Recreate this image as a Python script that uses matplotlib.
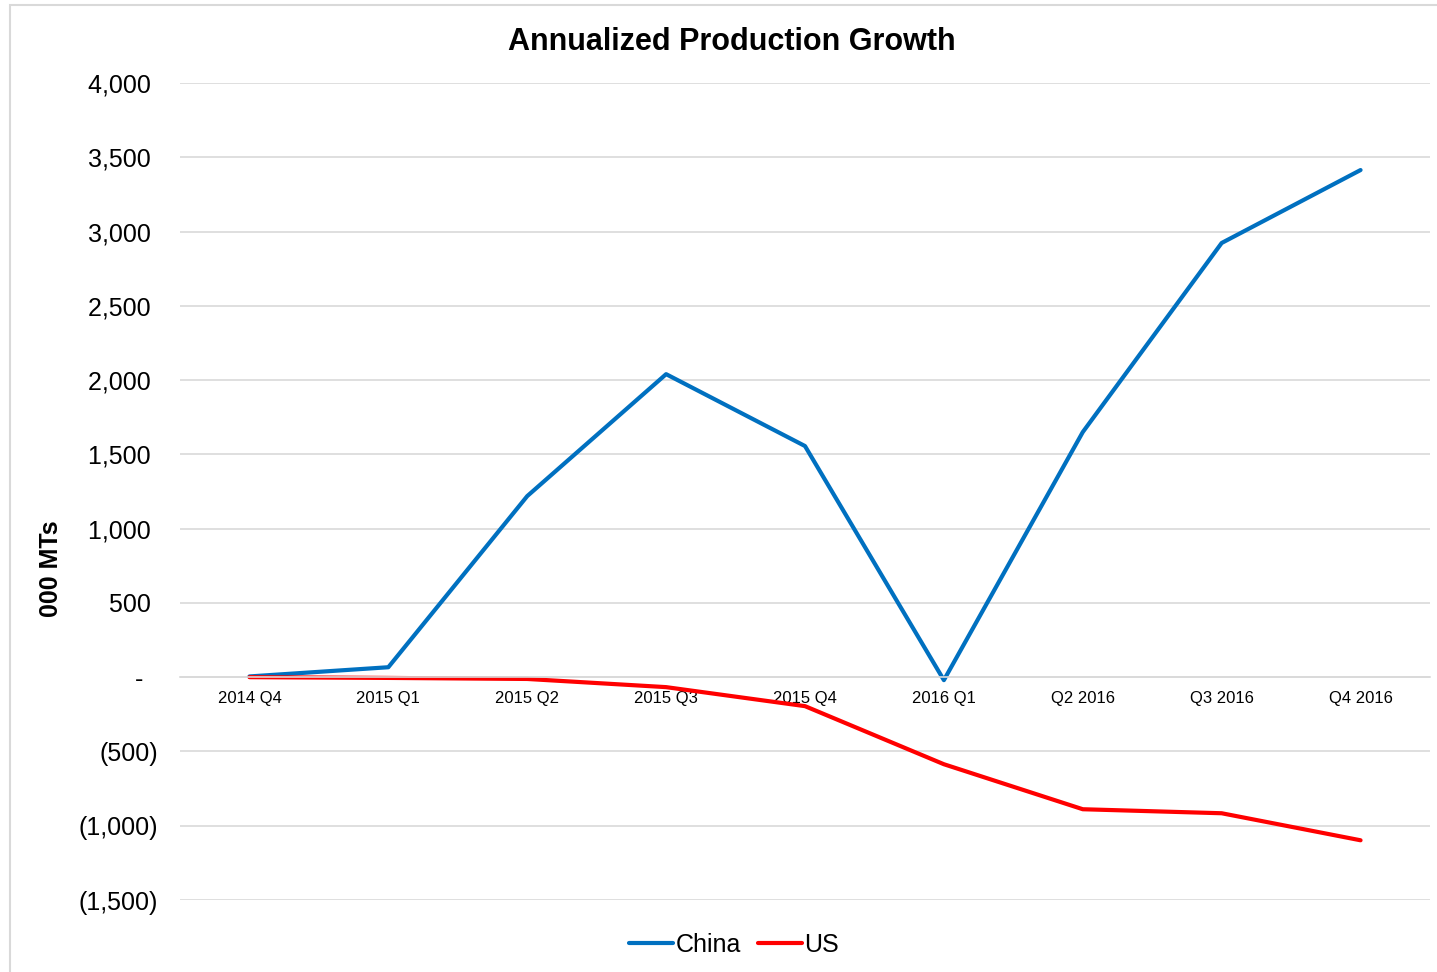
import matplotlib.pyplot as plt
from matplotlib.patches import Rectangle
from matplotlib.ticker import FuncFormatter
import numpy as np

QUARTERS = ["2014 Q4", "2015 Q1", "2015 Q2", "2015 Q3", "2015 Q4",
            "2016 Q1", "Q2 2016", "Q3 2016", "Q4 2016"]
CHINA = [5, 67, 1219, 2040, 1556, -20, 1650, 2923, 3414]
US = [0, -5, -12, -67, -195, -586, -889, -916, -1098]

BLUE = "#0070C0"
RED = "#FF0000"
GRID = "#D9D9D9"


def accounting(value, _pos):
    if abs(value) < 1e-9:
        return "-  "
    if value < 0:
        return f"({abs(value):,.0f})"
    return f"{value:,.0f} "


def main() -> None:
    plt.rcParams.update({"font.family": ["Liberation Sans", "DejaVu Sans"]})
    fig = plt.figure(figsize=(14.37, 9.72), dpi=100)
    fig.patches.append(Rectangle((10 / 1437, -0.01), 1.1, (972 - 5) / 972 + 0.01,
                                 transform=fig.transFigure, fill=False,
                                 edgecolor="#D9D9D9", linewidth=1.5))
    ax = fig.add_axes([180 / 1437, (972 - 900) / 972, 1250 / 1437, (900 - 83) / 972])

    x = np.arange(len(QUARTERS))
    ax.plot(x, CHINA, color=BLUE, linewidth=3, label="China", solid_capstyle="round")
    ax.plot(x, US, color=RED, linewidth=3, label="US", solid_capstyle="round")

    ax.set_xlim(-0.5, len(QUARTERS) - 0.5)
    ax.set_ylim(-1500, 4000)
    ax.set_yticks(np.arange(-1500, 4001, 500))
    ax.yaxis.set_major_formatter(FuncFormatter(accounting))
    ax.grid(axis="y", color=GRID, linewidth=1.2)
    ax.set_axisbelow(True)

    for side in ("top", "right", "left"):
        ax.spines[side].set_visible(False)
    ax.spines["bottom"].set_position(("data", 0))
    ax.spines["bottom"].set_color(GRID)
    ax.spines["bottom"].set_linewidth(1.2)

    ax.set_xticks(x)
    ax.set_xticklabels(QUARTERS, fontsize=12)
    ax.tick_params(axis="x", length=0, pad=10)
    ax.tick_params(axis="y", length=0, labelsize=18, pad=16)

    fig.text(51 / 1437, 1 - 569 / 972, "000 MTs", rotation=90, ha="center",
             va="center", fontsize=18, fontweight="bold")
    fig.text(0.509, 1 - 42 / 972, "Annualized Production Growth", ha="center",
             va="center", fontsize=22, fontweight="bold")

    fig.legend(loc="center", bbox_to_anchor=(0.511, 1 - 945 / 972), ncol=2,
               frameon=False, fontsize=18, handlelength=1.75, handletextpad=0.1,
               columnspacing=0.7)

    fig.savefig("out.png", dpi=100)
    plt.close(fig)


if __name__ == "__main__":
    main()
